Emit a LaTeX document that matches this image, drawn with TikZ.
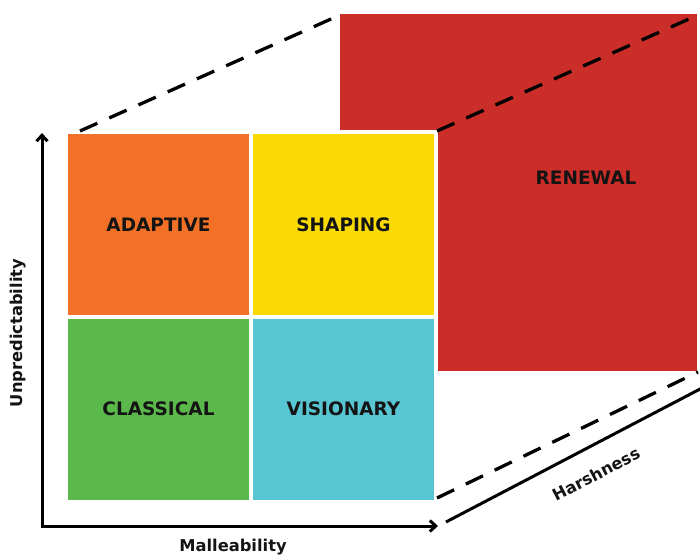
\documentclass[tikz,border=0pt]{standalone}
\usepackage{fontspec}
\setmainfont{DejaVu Sans}
\usetikzlibrary{arrows.meta}
\definecolor{cOrange}{RGB}{242,113,39}
\definecolor{cYellow}{RGB}{249,218,5}
\definecolor{cGreen}{RGB}{91,185,76}
\definecolor{cCyan}{RGB}{88,198,210}
\definecolor{cRed}{RGB}{203,46,40}
\definecolor{cText}{RGB}{20,20,20}
\begin{document}
\begin{tikzpicture}[x=1pt,y=-1pt,
  quad/.style={rectangle, inner sep=0pt, minimum width=181pt, minimum height=181pt,
    text=cText, font=\fontsize{18.5}{22}\selectfont\bfseries},
  axislabel/.style={text=cText, font=\fontsize{16.3}{19}\selectfont\bfseries, inner sep=0pt},
  axis/.style={line width=3pt, draw=black},
  dashline/.style={line width=3.3pt, dash pattern=on 19pt off 13pt, draw=black}
]
\useasboundingbox (0,0) rectangle (700,556);
% back (harshness) face
\fill[cRed] (340,14) rectangle (697,371);
\node[text=cText, font=\fontsize{18.5}{22}\selectfont\bfseries] (renewal) at (586,178) {RENEWAL};
% white backing of grid
\fill[white] (64,130) rectangle (438,503);
% quadrants
\node[quad, fill=cOrange] (adaptive) at (158.5,224.5) {ADAPTIVE};
\node[quad, fill=cYellow] (shaping) at (343.5,224.5) {SHAPING};
\node[quad, fill=cGreen] (classical) at (158.5,409) {CLASSICAL};
\node[quad, fill=cCyan] (visionary) at (343.5,409) {VISIONARY};
% dashed perspective lines
\coordinate (d1a) at (80,131);
\coordinate (d1b) at (340,15);
\coordinate (d2a) at (437,131);
\coordinate (d2b) at (698,15);
\coordinate (d3a) at (437,498);
\coordinate (d3b) at (698,372);
\draw[dashline] (d1a) -- (d1b);
\draw[dashline] (d2a) -- (d2b);
\draw[dashline] (d3a) -- (d3b);
% axes
\coordinate (origin) at (42,526);
\coordinate (ytip) at (42,133);
\coordinate (xtip) at (438,526);
\coordinate (hstart) at (446,522);
\coordinate (hend) at (702,388);
\draw[axis, -{Straight Barb[length=6pt,width=11pt]}] ([yshift=-1.5pt]origin) -- (ytip);
\draw[axis, -{Straight Barb[length=6pt,width=11pt]}] ([xshift=-1.5pt]origin) -- (xtip);
\draw[axis] (hstart) -- (hend);
% axis labels
\node[axislabel, rotate=90] (ylab) at (18,333) {Unpredictability};
\node[axislabel] (xlab) at (233,547) {Malleability};
\node[axislabel, rotate=27.5] (hlab) at (596,474) {Harshness};
\end{tikzpicture}
\end{document}
